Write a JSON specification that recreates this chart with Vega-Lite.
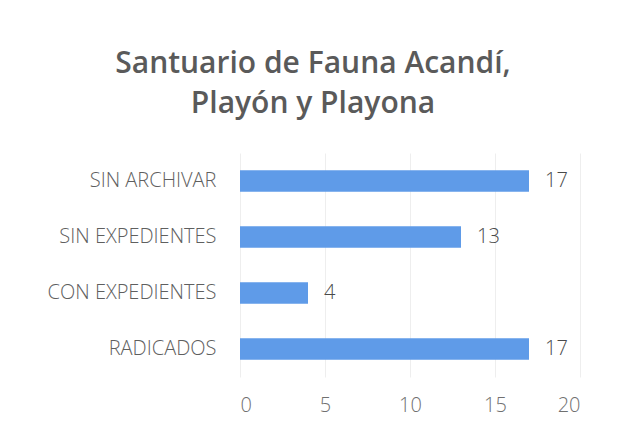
{
  "$schema": "https://vega.github.io/schema/vega-lite/v6.json",
  "width": 340,
  "height": 224,
  "autosize": {"type": "none"},
  "padding": {"left": 240, "top": 153, "right": 63, "bottom": 71},
  "background": "white",
  "title": {
    "text": ["Santuario de Fauna Acandí,", "Playón y Playona"],
    "font": "Open Sans",
    "fontSize": 30,
    "fontWeight": 600,
    "color": "#5a5a5a",
    "anchor": "middle",
    "frame": "group",
    "dx": -97,
    "lineHeight": 40,
    "offset": 34
  },
  "data": {
    "values": [
      {"categoria": "SIN ARCHIVAR", "valor": 17},
      {"categoria": "SIN EXPEDIENTES", "valor": 13},
      {"categoria": "CON EXPEDIENTES", "valor": 4},
      {"categoria": "RADICADOS", "valor": 17}
    ]
  },
  "encoding": {
    "y": {
      "field": "categoria",
      "type": "nominal",
      "sort": null,
      "title": null,
      "scale": {"paddingInner": 0.62, "paddingOuter": 0.31},
      "axis": {
        "domain": false,
        "ticks": false,
        "labelFont": "Open Sans",
        "labelFontSize": 20,
        "labelFontWeight": 300,
        "labelColor": "#5f5f5f",
        "labelPadding": 24
      }
    },
    "x": {
      "field": "valor",
      "type": "quantitative",
      "title": null,
      "scale": {"domain": [0, 20]},
      "axis": {
        "values": [0, 5, 10, 15, 20],
        "domain": false,
        "ticks": false,
        "grid": true,
        "gridColor": "#eeeeee",
        "labelFont": "Open Sans",
        "labelFontSize": 20,
        "labelFontWeight": 300,
        "labelColor": "#707070",
        "labelPadding": 18
      }
    }
  },
  "layer": [
    {"mark": {"type": "bar", "color": "#5f9be8"}},
    {
      "mark": {
        "type": "text",
        "align": "left",
        "dx": 16,
        "font": "Open Sans",
        "fontSize": 20,
        "fontWeight": 300,
        "color": "#4a4a4a"
      },
      "encoding": {"text": {"field": "valor", "type": "quantitative"}}
    }
  ],
  "config": {"view": {"stroke": null}}
}
